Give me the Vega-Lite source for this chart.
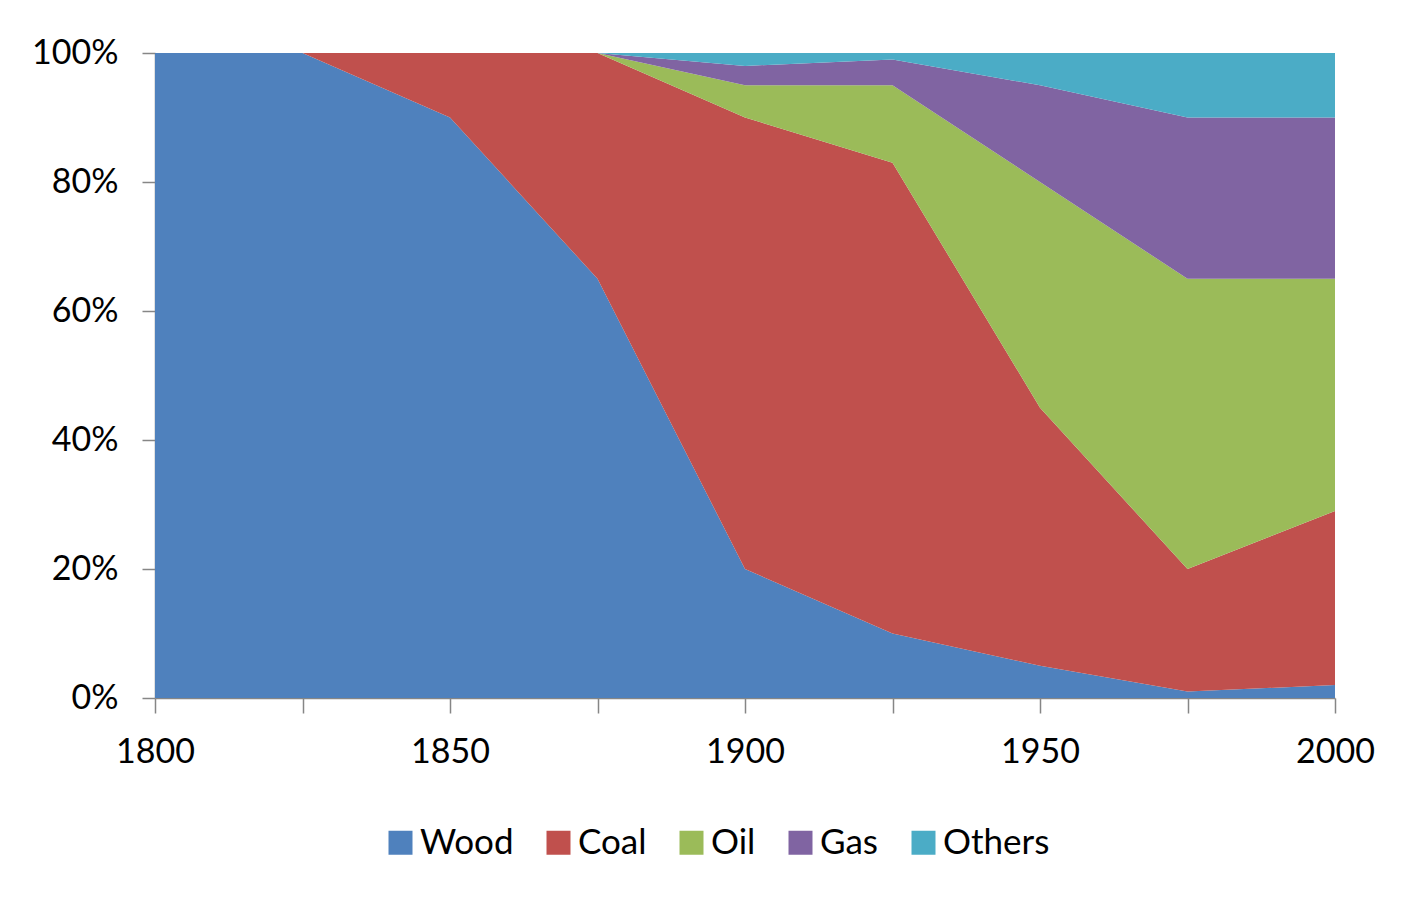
{
  "$schema": "https://vega.github.io/schema/vega-lite/v6.json",
  "autosize": {"type": "none"},
  "width": 1180,
  "height": 645,
  "padding": {"left": 155, "top": 53, "right": 69, "bottom": 201},
  "background": "white",
  "data": {
    "values": [
      {"year": 1800, "fuel": "Wood", "share": 100},
      {"year": 1825, "fuel": "Wood", "share": 100},
      {"year": 1850, "fuel": "Wood", "share": 90},
      {"year": 1875, "fuel": "Wood", "share": 65},
      {"year": 1900, "fuel": "Wood", "share": 20},
      {"year": 1925, "fuel": "Wood", "share": 10},
      {"year": 1950, "fuel": "Wood", "share": 5},
      {"year": 1975, "fuel": "Wood", "share": 1},
      {"year": 2000, "fuel": "Wood", "share": 2},
      {"year": 1800, "fuel": "Coal", "share": 0},
      {"year": 1825, "fuel": "Coal", "share": 0},
      {"year": 1850, "fuel": "Coal", "share": 10},
      {"year": 1875, "fuel": "Coal", "share": 35},
      {"year": 1900, "fuel": "Coal", "share": 70},
      {"year": 1925, "fuel": "Coal", "share": 73},
      {"year": 1950, "fuel": "Coal", "share": 40},
      {"year": 1975, "fuel": "Coal", "share": 19},
      {"year": 2000, "fuel": "Coal", "share": 27},
      {"year": 1800, "fuel": "Oil", "share": 0},
      {"year": 1825, "fuel": "Oil", "share": 0},
      {"year": 1850, "fuel": "Oil", "share": 0},
      {"year": 1875, "fuel": "Oil", "share": 0},
      {"year": 1900, "fuel": "Oil", "share": 5},
      {"year": 1925, "fuel": "Oil", "share": 12},
      {"year": 1950, "fuel": "Oil", "share": 35},
      {"year": 1975, "fuel": "Oil", "share": 45},
      {"year": 2000, "fuel": "Oil", "share": 36},
      {"year": 1800, "fuel": "Gas", "share": 0},
      {"year": 1825, "fuel": "Gas", "share": 0},
      {"year": 1850, "fuel": "Gas", "share": 0},
      {"year": 1875, "fuel": "Gas", "share": 0},
      {"year": 1900, "fuel": "Gas", "share": 3},
      {"year": 1925, "fuel": "Gas", "share": 4},
      {"year": 1950, "fuel": "Gas", "share": 15},
      {"year": 1975, "fuel": "Gas", "share": 25},
      {"year": 2000, "fuel": "Gas", "share": 25},
      {"year": 1800, "fuel": "Others", "share": 0},
      {"year": 1825, "fuel": "Others", "share": 0},
      {"year": 1850, "fuel": "Others", "share": 0},
      {"year": 1875, "fuel": "Others", "share": 0},
      {"year": 1900, "fuel": "Others", "share": 2},
      {"year": 1925, "fuel": "Others", "share": 1},
      {"year": 1950, "fuel": "Others", "share": 5},
      {"year": 1975, "fuel": "Others", "share": 10},
      {"year": 2000, "fuel": "Others", "share": 10}
    ]
  },
  "transform": [
    {"calculate": "indexof(['Wood','Coal','Oil','Gas','Others'], datum.fuel)", "as": "k"}
  ],
  "mark": {"type": "area", "strokeWidth": 0},
  "encoding": {
    "x": {
      "field": "year",
      "type": "quantitative",
      "scale": {"domain": [1800, 2000], "nice": false, "zero": false},
      "axis": {
        "title": null,
        "values": [1800, 1825, 1850, 1875, 1900, 1925, 1950, 1975, 2000],
        "format": "d",
        "labelExpr": "datum.value % 50 === 0 ? datum.label : ''",
        "grid": false,
        "tickSize": 15,
        "labelPadding": 22,
        "labelFont": "Lato",
        "labelFontSize": 34,
        "labelColor": "#000000",
        "domainColor": "#868686",
        "tickColor": "#868686",
        "domainWidth": 1.5,
        "tickWidth": 1.5,
        "labelFlush": false,
        "labelOverlap": false
      }
    },
    "y": {
      "field": "share",
      "type": "quantitative",
      "stack": "normalize",
      "scale": {"domain": [0, 1], "nice": false},
      "axis": {
        "title": null,
        "values": [0, 0.2, 0.4, 0.6, 0.8, 1],
        "format": ".0%",
        "grid": false,
        "tickSize": 13,
        "labelPadding": 24,
        "labelFont": "Lato",
        "labelFontSize": 34,
        "labelColor": "#000000",
        "domainColor": "#868686",
        "tickColor": "#868686",
        "domainWidth": 1.5,
        "tickWidth": 1.5,
        "labelFlush": false,
        "labelOverlap": false
      }
    },
    "color": {
      "field": "fuel",
      "type": "nominal",
      "sort": ["Wood", "Coal", "Oil", "Gas", "Others"],
      "scale": {
        "domain": ["Wood", "Coal", "Oil", "Gas", "Others"],
        "range": ["#4F81BD", "#C0504D", "#9BBB59", "#8064A2", "#4BACC6"]
      },
      "legend": {
        "title": null,
        "orient": "none",
        "direction": "horizontal",
        "legendX": 228,
        "legendY": 772,
        "symbolType": "square",
        "symbolSize": 576,
        "symbolStrokeWidth": 0,
        "symbolOpacity": 1,
        "labelFont": "Lato",
        "labelFontSize": 35,
        "labelColor": "#000000",
        "labelOffset": 2,
        "columnPadding": 27,
        "padding": 0
      }
    },
    "order": {"field": "k", "type": "quantitative", "sort": "ascending"}
  },
  "config": {"view": {"stroke": null}}
}
